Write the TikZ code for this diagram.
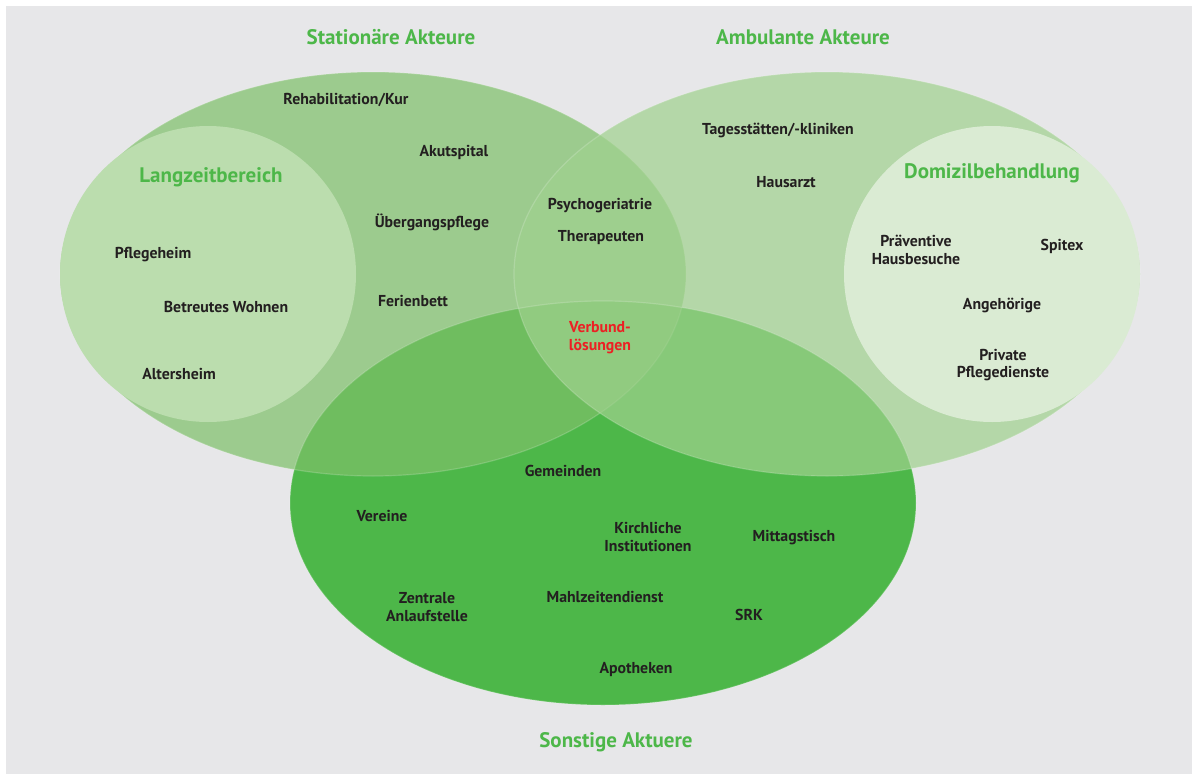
\documentclass[tikz,border=0pt]{standalone}
\usepackage{fontspec}
\setmainfont{PT Sans}
\usetikzlibrary{shapes.geometric}
\definecolor{bg}{RGB}{231,231,233}
\definecolor{akteur}{RGB}{77,183,73}
\definecolor{statfill}{RGB}{126,192,105}
\definecolor{ambfill}{RGB}{160,209,142}
\definecolor{langfill}{RGB}{187,221,174}
\definecolor{domfill}{RGB}{218,235,211}
\definecolor{ink}{RGB}{35,31,32}
\definecolor{verbund}{RGB}{236,32,36}

\begin{document}
\begin{tikzpicture}[x=1pt,y=-1pt,
	blob/.style={ellipse, inner sep=0pt, minimum width=626pt, minimum height=404pt},
	bubble/.style={circle, inner sep=0pt, minimum size=296pt},
	rim/.style={draw=white, draw opacity=0.18, line width=1.2pt},
	item/.style={font=\bfseries\fontsize{15.8}{17.8}\selectfont, text=ink, align=center},
	title/.style={font=\bfseries\fontsize{21}{24}\selectfont, text=akteur, align=center},
]
	\useasboundingbox (0,0) rectangle (1192,774);
	\fill[bg] (6,6) rectangle (1192,774);

	% the three actor groups
	\node[blob, fill=akteur] (sonst) at (603,503) {};
	\node[blob, fill=statfill, fill opacity=0.71, rim] (stat) at (373,274) {};
	\node[blob, fill=ambfill, fill opacity=0.71, rim] (amb) at (827,274) {};
	\node[blob, rim, fill=none] at (603,503) {};
	\node[bubble, fill=langfill] (langzeit) at (208,274) {};
	\node[bubble, fill=domfill] (domizil) at (992,274) {};

	\node[title] (t-stat) at (391,37) {Stationäre Akteure};
	\node[title] (t-amb) at (803,37) {Ambulante Akteure};
	\node[title] (t-sonst) at (616,742) {Sonstige Aktuere};
	\node[title] (t-lang) at (211,177) {Langzeitbereich};
	\node[title] (t-dom) at (992,173) {Domizilbehandlung};

	\node[item] (reha) at (346,100) {Rehabilitation/Kur};
	\node[item] (akut) at (454,152) {Akutspital};
	\node[item] (ueber) at (432,222) {Übergangspflege};
	\node[item] (ferien) at (413,301) {Ferienbett};
	\node[item] (pflege) at (153,255) {Pflegeheim};
	\node[item] (betreut) at (226,307) {Betreutes Wohnen};
	\node[item] (alters) at (179,374) {Altersheim};

	\node[item] (psycho) at (600,206) {Psychogeriatrie};
	\node[item] (thera) at (601,238) {Therapeuten};
	\node[item, text=verbund] (verbund) at (600,338) {Verbund-\\lösungen};

	\node[item] (tages) at (778,130) {Tagesstätten/-kliniken};
	\node[item] (haus) at (786,182) {Hausarzt};
	\node[item] (praev) at (916,250) {Präventive\\Hausbesuche};
	\node[item] (spitex) at (1062,246) {Spitex};
	\node[item] (angeh) at (1002,305) {Angehörige};
	\node[item] (privat) at (1003,365) {Private\\Pflegedienste};

	\node[item] (gemeinden) at (563,471) {Gemeinden};
	\node[item] (vereine) at (382,516) {Vereine};
	\node[item] (kirche) at (648,537) {Kirchliche\\Institutionen};
	\node[item] (mittag) at (794,538) {Mittagstisch};
	\node[item] (zentral) at (427,607) {Zentrale\\Anlaufstelle};
	\node[item] (mahl) at (605,597) {Mahlzeitendienst};
	\node[item] (srk) at (749,615) {SRK};
	\node[item] (apo) at (636,670) {Apotheken};
\end{tikzpicture}
\end{document}
